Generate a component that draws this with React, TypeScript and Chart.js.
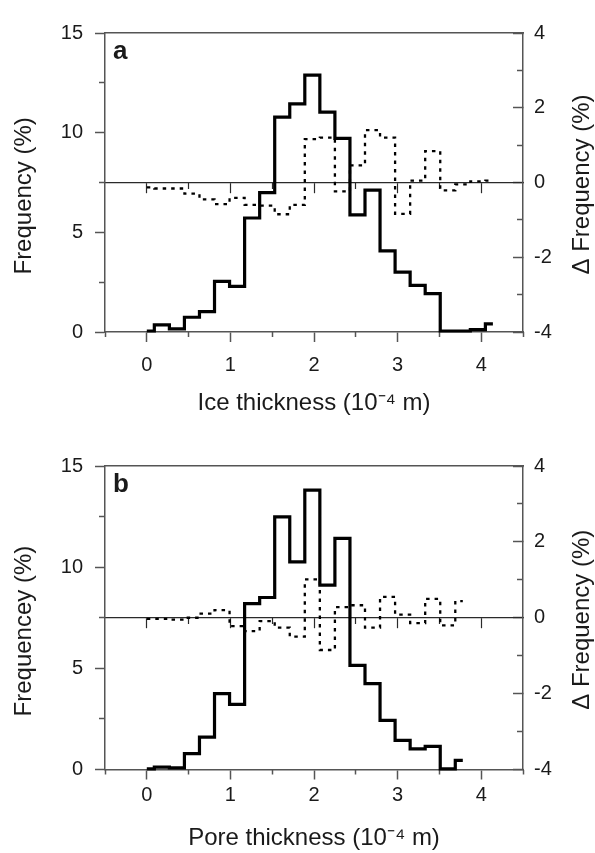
import React, { useEffect, useRef } from "react";
import { Chart, registerables } from "chart.js";

Chart.register(...registerables);

// ---------- DATA ----------
const binCentersA = [0, 0.18, 0.36, 0.54, 0.72, 0.9, 1.08, 1.26, 1.44, 1.62, 1.8, 1.98, 2.16, 2.34, 2.52, 2.7, 2.88, 3.06, 3.24, 3.42, 3.6, 3.78, 3.96, 4.14];
const iceFreq = [0.05, 0.36, 0.16, 0.74, 1.02, 2.54, 2.29, 5.72, 6.99, 10.78, 11.44, 12.89, 11.03, 9.71, 5.88, 7.12, 4.07, 3.0, 2.34, 1.93, 0.05, 0.05, 0.12, 0.41];
const iceDelta = [-0.13, -0.16, -0.16, -0.3, -0.45, -0.58, -0.41, -0.6, -0.62, -0.85, -0.6, 1.16, 1.2, -0.24, 0.46, 1.4, 1.2, -0.84, 0.05, 0.84, -0.21, -0.05, 0.03, 0.05];

const binCentersB = [0, 0.18, 0.36, 0.54, 0.72, 0.9, 1.08, 1.26, 1.44, 1.62, 1.8, 1.98, 2.16, 2.34, 2.52, 2.7, 2.88, 3.06, 3.24, 3.42, 3.6, 3.78];
const poreFreq = [0.03, 0.12, 0.08, 0.78, 1.6, 3.75, 3.22, 8.2, 8.5, 12.49, 10.26, 13.81, 9.11, 11.42, 5.15, 4.24, 2.43, 1.44, 1.02, 1.14, 0.03, 0.45];
const poreDelta = [-0.03, -0.03, -0.05, 0.0, 0.11, 0.2, -0.22, -0.35, -0.09, -0.26, -0.5, 1.01, -0.85, 0.28, 0.33, -0.26, 0.55, 0.08, -0.14, 0.5, -0.2, 0.44];

const xMajorTicks = [0, 1, 2, 3, 4];
const xMinorTicks = [-0.5, 0.5, 1.5, 2.5, 3.5, 4.5];
const freqMajorTicks = [0, 5, 10, 15];
const freqMinorTicks = [2.5, 7.5, 12.5];
const deltaMajorTicks = [-4, -2, 0, 2, 4];
const deltaMinorTicks = [-3, -1, 1, 3];

const xRange = [-0.5, 4.5];
const freqRange = [0, 15];
const deltaRange = [-4, 4];

// ---------- STYLE ----------
const FONT = "'Liberation Sans', Arial, sans-serif";
const TEXT = "#1a1a1a";
const AXIS = "#555";
const ZERO = "#2a2a2a";

type PanelParams = {
  letter: string;
  xs: number[];
  freq: number[];
  delta: number[];
  xTitle: string;
  yTitle: string;
  rTitle: string;
  canvasH: number;
  topH: number;
  bottomH: number;
  xLabelPad: number;
  xTitlePad: number;
};

const setTicks = (arr: number[]) => (s: any) => {
  s.ticks = arr.map((v) => ({ value: v }));
};
const fixW = (w: number) => (s: any) => {
  s.width = w;
};
const fixH = (h: number) => (s: any) => {
  s.height = h;
};

function makeConfig(p: PanelParams): any {
  const tickFont = { family: FONT, size: 20 };
  const titleFont = { family: FONT, size: 24 };

  const textPlugin = {
    id: "panelText" + p.letter,
    afterDraw(chart: any) {
      const { ctx, chartArea, scales } = chart;
      ctx.save();
      ctx.fillStyle = TEXT;
      ctx.font = `bold 26px ${FONT}`;
      ctx.textAlign = "left";
      ctx.textBaseline = "alphabetic";
      ctx.fillText(p.letter, chartArea.left + 8, chartArea.top + 26);
      const yR = scales.yR;
      ctx.font = `24px ${FONT}`;
      ctx.translate(yR.right - 13, (yR.top + yR.bottom) / 2 + 2);
      ctx.rotate(-Math.PI / 2);
      ctx.textAlign = "center";
      ctx.textBaseline = "middle";
      ctx.fillText(p.rTitle, 0, 0);
      ctx.restore();
    },
  };

  return {
    type: "line",
    data: {
      datasets: [
        {
          data: p.xs.map((x, i) => ({ x, y: p.delta[i] })),
          xAxisID: "x",
          yAxisID: "yR",
          stepped: "middle",
          borderColor: "#000",
          borderWidth: 2.3,
          borderDash: [3.5, 5],
          pointRadius: 0,
          fill: false,
          clip: false,
        },
        {
          data: p.xs.map((x, i) => ({ x, y: p.freq[i] })),
          xAxisID: "x",
          yAxisID: "y",
          stepped: "middle",
          borderColor: "#000",
          borderWidth: 3.2,
          pointRadius: 0,
          fill: false,
          clip: false,
        },
      ],
    },
    options: {
      responsive: false,
      animation: false,
      devicePixelRatio: 1,
      layout: { padding: 0, autoPadding: false },
      plugins: { legend: { display: false }, tooltip: { enabled: false } },
      scales: {
        x: {
          type: "linear",
          axis: "x",
          position: "bottom",
          weight: 1,
          min: xRange[0],
          max: xRange[1],
          afterBuildTicks: setTicks(xMajorTicks),
          afterFit: fixH(p.bottomH),
          ticks: { font: tickFont, color: TEXT, padding: p.xLabelPad, autoSkip: false, maxRotation: 0 },
          grid: { display: true, drawOnChartArea: false, drawTicks: true, tickLength: 10, tickColor: AXIS, tickWidth: 1.5 },
          border: { display: true, color: AXIS, width: 1.5 },
          title: { display: true, text: p.xTitle, font: titleFont, color: TEXT, padding: { top: 0, bottom: p.xTitlePad } },
        },
        xMinor: {
          type: "linear",
          axis: "x",
          position: "bottom",
          weight: 0,
          min: xRange[0],
          max: xRange[1],
          afterBuildTicks: setTicks(xMinorTicks),
          afterFit: fixH(0),
          ticks: { display: false },
          grid: { display: true, drawOnChartArea: false, drawTicks: true, tickLength: 5, tickColor: AXIS, tickWidth: 1.5 },
          border: { display: false },
        },
        xTop: {
          type: "linear",
          axis: "x",
          position: "top",
          min: xRange[0],
          max: xRange[1],
          afterFit: fixH(p.topH),
          ticks: { display: false },
          grid: { display: false, drawTicks: false },
          border: { display: true, color: AXIS, width: 1.5 },
        },
        xZero: {
          type: "linear",
          axis: "x",
          position: { yR: 0 },
          min: xRange[0],
          max: xRange[1],
          afterBuildTicks: setTicks(xMajorTicks),
          ticks: { display: false },
          grid: { display: true, drawOnChartArea: false, drawTicks: true, tickLength: 10, tickColor: ZERO, tickWidth: 1.2 },
          border: { display: true, color: ZERO, width: 1.2 },
        },
        xZeroMinor: {
          type: "linear",
          axis: "x",
          position: { yR: 0 },
          min: xRange[0],
          max: xRange[1],
          afterBuildTicks: setTicks(xMinorTicks.filter((v) => v > xRange[0] && v < xRange[1])),
          ticks: { display: false },
          grid: { display: true, drawOnChartArea: false, drawTicks: true, tickLength: 6, tickColor: ZERO, tickWidth: 1.2 },
          border: { display: false },
        },
        y: {
          type: "linear",
          axis: "y",
          position: "left",
          weight: 1,
          min: freqRange[0],
          max: freqRange[1],
          afterBuildTicks: setTicks(freqMajorTicks),
          afterFit: fixW(105),
          ticks: { font: tickFont, color: TEXT, padding: 12 },
          grid: { display: true, drawOnChartArea: false, drawTicks: true, tickLength: 10, tickColor: AXIS, tickWidth: 1.5 },
          border: { display: true, color: AXIS, width: 1.5 },
          title: { display: true, text: p.yTitle + "    ", font: titleFont, color: TEXT, padding: { top: 10, bottom: 0 } },
        },
        yMinor: {
          type: "linear",
          axis: "y",
          position: "left",
          weight: 0,
          min: freqRange[0],
          max: freqRange[1],
          afterBuildTicks: setTicks(freqMinorTicks),
          afterFit: fixW(0),
          ticks: { display: false },
          grid: { display: true, drawOnChartArea: false, drawTicks: true, tickLength: 6, tickColor: AXIS, tickWidth: 1.5 },
          border: { display: false },
        },
        yR: {
          type: "linear",
          axis: "y",
          position: "right",
          weight: 1,
          min: deltaRange[0],
          max: deltaRange[1],
          afterBuildTicks: setTicks(deltaMajorTicks),
          afterFit: fixW(72),
          ticks: { font: tickFont, color: TEXT, padding: 21 },
          grid: { display: true, drawOnChartArea: false, drawTicks: true, tickLength: -10, tickColor: AXIS, tickWidth: 1.5 },
          border: { display: true, color: AXIS, width: 1.5 },
        },
        yRMinor: {
          type: "linear",
          axis: "y",
          position: "right",
          weight: 0,
          min: deltaRange[0],
          max: deltaRange[1],
          afterBuildTicks: setTicks(deltaMinorTicks),
          afterFit: fixW(0),
          ticks: { display: false },
          grid: { display: true, drawOnChartArea: false, drawTicks: true, tickLength: -6, tickColor: AXIS, tickWidth: 1.5 },
          border: { display: false },
        },
      },
    },
    plugins: [textPlugin],
  };
}

const panelA: PanelParams = {
  letter: "a",
  xs: binCentersA,
  freq: iceFreq,
  delta: iceDelta,
  xTitle: "Ice thickness (10\u207B\u2074 m)",
  yTitle: "Frequency (%)",
  rTitle: "\u0394 Frequency (%)",
  canvasH: 430,
  topH: 29,
  bottomH: 98,
  xLabelPad: 11,
  xTitlePad: 12.6,
};

const panelB: PanelParams = {
  letter: "b",
  xs: binCentersB,
  freq: poreFreq,
  delta: poreDelta,
  xTitle: "Pore thickness (10\u207B\u2074 m)",
  yTitle: "Frequencey (%)",
  rTitle: "\u0394 Frequency (%)",
  canvasH: 423,
  topH: 36,
  bottomH: 83.5,
  xLabelPad: 3.5,
  xTitlePad: 0,
};

function Panel({ params, top }: { params: PanelParams; top: number }) {
  const ref = useRef<HTMLCanvasElement>(null);
  useEffect(() => {
    const chart = new Chart(ref.current as HTMLCanvasElement, makeConfig(params));
    return () => chart.destroy();
  }, [params]);
  return (
    <canvas
      ref={ref}
      width={595}
      height={params.canvasH}
      style={{ position: "absolute", left: 0, top, width: 595, height: params.canvasH, display: "block" }}
    />
  );
}

export default function App() {
  return (
    <div style={{ position: "absolute", left: 0, top: 0, width: 595, height: 853, background: "#fff" }}>
      <Panel params={panelA} top={0} />
      <Panel params={panelB} top={430} />
    </div>
  );
}
